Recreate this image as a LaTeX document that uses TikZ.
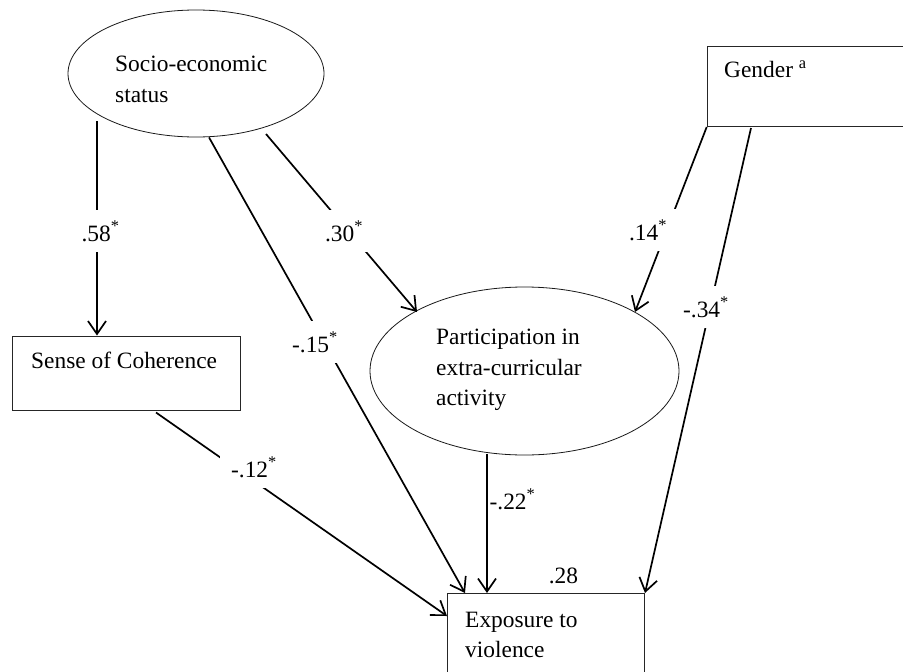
\documentclass[tikz,border=0pt]{standalone}
\usepackage{fontspec}
\setmainfont{Liberation Serif}
\usetikzlibrary{arrows.meta,shapes.geometric}
\begin{document}
\begin{tikzpicture}[x=1pt,y=-1pt,
  every node/.style={font=\fontsize{23.4}{30.5}\selectfont, inner sep=0pt},
  ell/.style={draw=black!90, ellipse, line width=0.8pt, inner sep=0pt},
  box/.style={draw=black!85, rectangle, line width=1pt, inner sep=0pt},
  txt/.style={anchor=north west, align=left},
  lab/.style={fill=white, inner sep=11pt, anchor=base},
  plainlab/.style={anchor=base},
  arr/.style={line width=1.7pt, -{Straight Barb[length=13pt,width=18pt]}}
]
\clip (0,0) rectangle (903,672);
\fill[white] (0,0) rectangle (903,672);

% nodes
\node[ell, minimum width=256pt, minimum height=127pt] (ses) at (196,73.5) {};
\node[txt] (sest) at (115,56) {Socio-economic\\status};
\node[box, minimum width=228pt, minimum height=74.7pt] (soc) at (126.7,373.35) {};
\node[txt] (soct) at (31,352) {Sense of Coherence};
\node[box, minimum width=260pt, minimum height=80pt, anchor=north west] (gen) at (706.7,46) {};
\node[txt] (gent) at (724,61) {Gender \textsuperscript{a}};
\node[ell, minimum width=309pt, minimum height=168pt] (part) at (524.5,371) {};
\node[txt] (partt) at (436,329) {Participation in\\extra-curricular\\activity};
\node[box, minimum width=197pt, minimum height=120pt, anchor=north west] (exp) at (447,593) {};
\node[txt] (expt) at (465,611.6) {Exposure to\\violence};

% connectors
\draw[arr] ([shift={(-99,47.5)}]ses.center) -- ([shift={(-29.7,0)}]soc.north);
\draw[arr] ([shift={(13,0)}]ses.south) -- ([shift={(18,0)}]exp.north west);
\draw[arr] ([shift={(70,60.5)}]ses.center) -- ([shift={(-107.5,-59)}]part.center);
\draw[arr] (gen.south west) -- ([shift={(110.5,-59)}]part.center);
\draw[arr] ([shift={(44.3,1)}]gen.south west) -- (exp.north east);
\draw[arr] ([shift={(29.3,1.3)}]soc.south) -- ([shift={(0,23)}]exp.north west);
\draw[arr] ([shift={(-37.5,-1)}]part.south) -- ([shift={(40,0)}]exp.north west);

% labels
\node[lab] (l58) at (100.5,241) {.58\textsuperscript{*}};
\node[lab] (l30) at (344,241) {.30\textsuperscript{*}};
\node[lab] (l15) at (315,352) {-.15\textsuperscript{*}};
\node[lab] (l12) at (254,477) {-.12\textsuperscript{*}};
\node[lab] (l14) at (648,240) {.14\textsuperscript{*}};
\node[lab] (l34) at (706,317) {-.34\textsuperscript{*}};
\node[plainlab] (l22) at (512.5,509) {-.22\textsuperscript{*}};
\node[plainlab] (l28) at (563.5,583) {.28};
\end{tikzpicture}
\end{document}
